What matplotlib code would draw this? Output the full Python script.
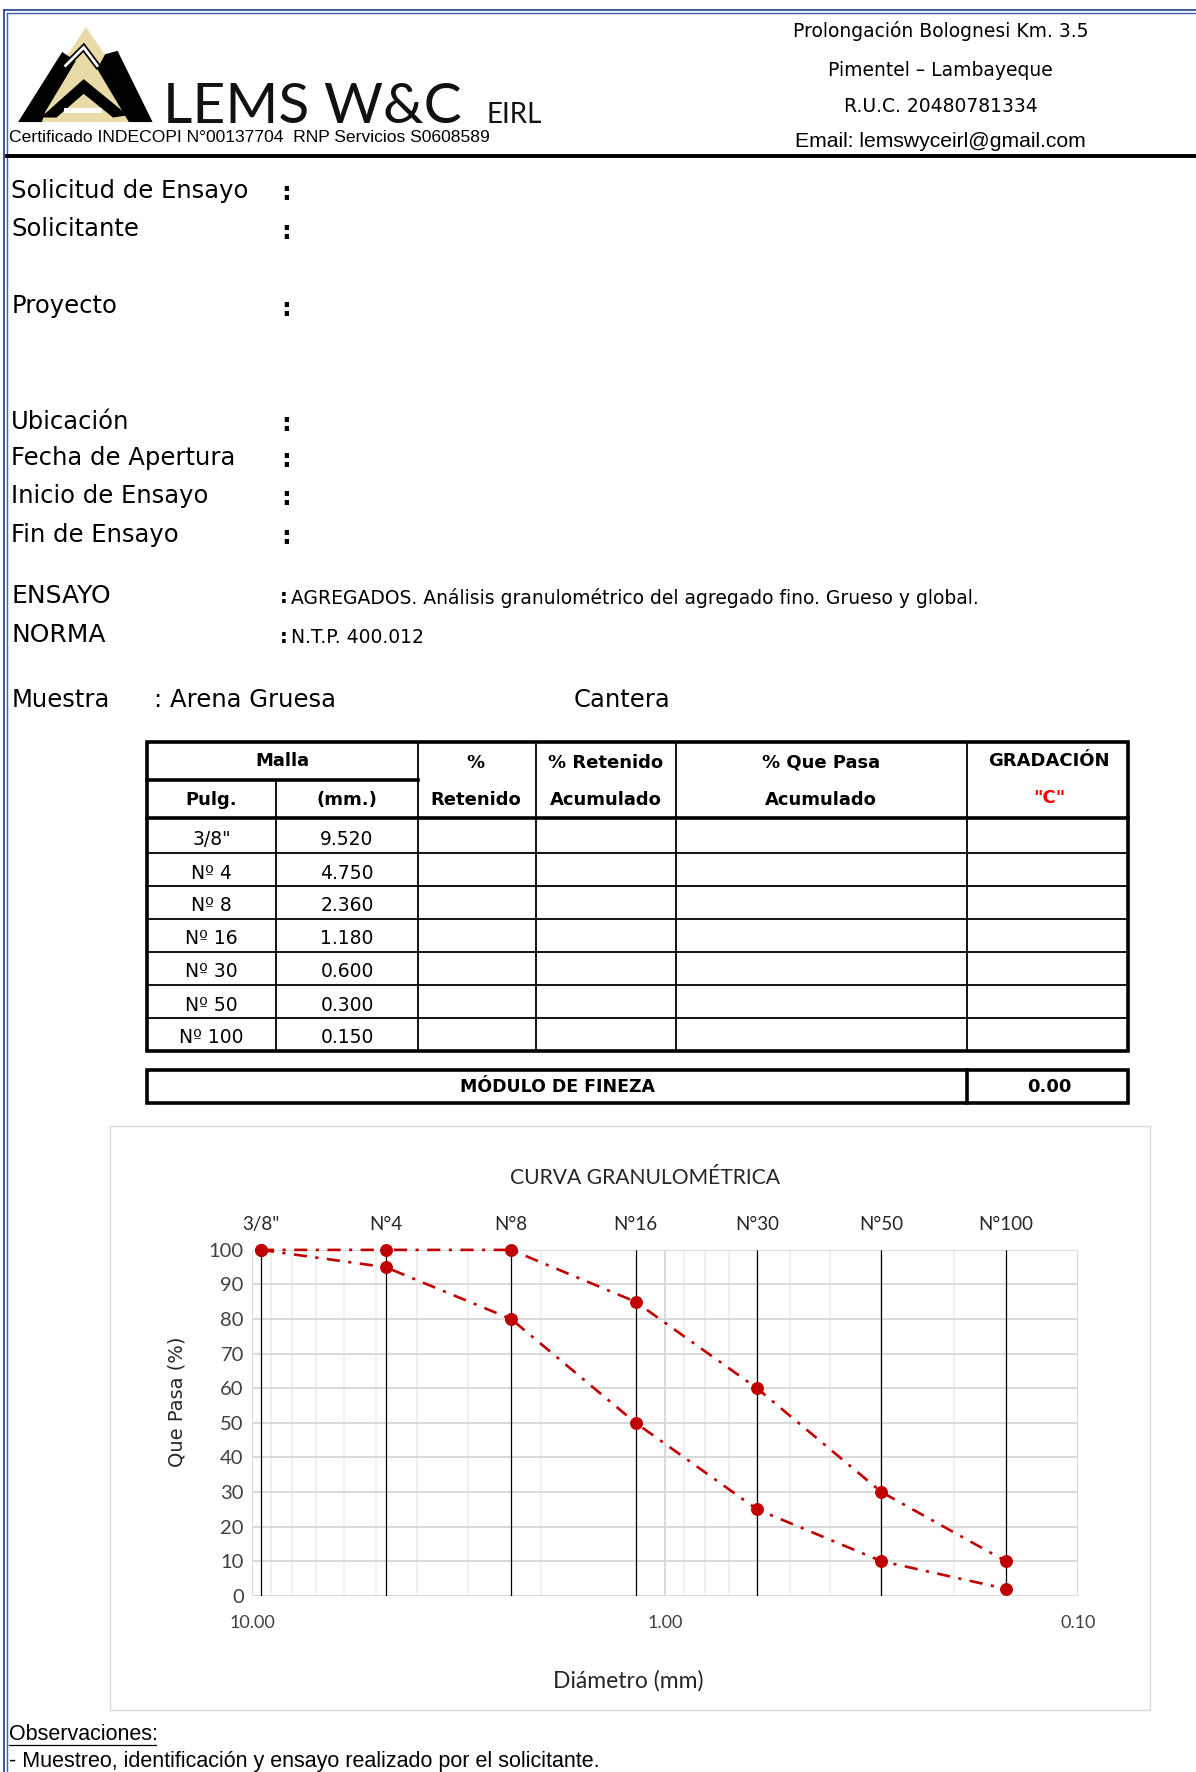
import matplotlib
matplotlib.use('Agg')
import matplotlib.pyplot as plt
from matplotlib.patches import Rectangle, Polygon
from matplotlib.ticker import LogLocator, NullFormatter, NullLocator
import numpy as np

# datos del ensayo granulometrico
tamiz_pulg = ['3/8"', 'Nº 4', 'Nº 8', 'Nº 16', 'Nº 30', 'Nº 50', 'Nº 100']
tamiz_mm_txt = ['9.520', '4.750', '2.360', '1.180', '0.600', '0.300', '0.150']
tamiz_mm = [9.52, 4.75, 2.36, 1.18, 0.60, 0.30, 0.15]
tamiz_top = ['3/8"', 'N°4', 'N°8', 'N°16', 'N°30', 'N°50', 'N°100']
limite_sup = [100, 100, 100, 85, 60, 30, 10]
limite_inf = [100, 95, 80, 50, 25, 10, 2]
modulo_fineza = '0.00'
gradacion = '"C"'

campos = ['Solicitud de Ensayo', 'Solicitante', 'Proyecto', 'Ubicación',
          'Fecha de Apertura', 'Inicio de Ensayo', 'Fin de Ensayo']
campos_y = [169, 203, 271, 373, 405, 439, 473]
direccion = ['Prolongación Bolognesi Km. 3.5', 'Pimentel – Lambayeque',
             'R.U.C. 20480781334']

W, H = 1058, 1568   # coordenadas de trabajo (se escalan a 1196x1772)
TAH = ['DejaVu Sans']
ARIAL = ['Liberation Sans', 'DejaVu Sans']
CAL = ['Lato', 'DejaVu Sans']
ROJO = '#C00000'

fig = plt.figure(figsize=(11.96, 17.72), dpi=100)
bg = fig.add_axes([0, 0, 1, 1])
bg.set_xlim(0, W)
bg.set_ylim(H, 0)
bg.axis('off')


def txt(x, y, s, size, fam=TAH, ha='left', **kw):
    bg.text(x, y, s, fontsize=size, family=fam, ha=ha, va='center', **kw)


# marco azul
bg.plot([3.5, W], [9, 9], color='#1F3C88', lw=1.2)
bg.plot([6, W], [11.5, 11.5], color='#3A5FCD', lw=1.0)
bg.plot([3.5, 3.5], [9, H], color='#1F3C88', lw=1.2)
bg.plot([6, 6], [11.5, H], color='#3A5FCD', lw=1.0)

# logo
bg.add_patch(Polygon([(20, 108), (76, 24), (134, 108)], closed=True, fc='#E9DBA8', ec='none'))
bg.add_patch(Polygon([(16, 108), (55, 46), (67, 54), (40, 99), (37, 108)], closed=True, fc='black'))
bg.add_patch(Polygon([(93, 48), (104, 45), (135, 108), (114, 108), (86, 61)], closed=True, fc='black'))
bg.add_patch(Polygon([(36, 104), (74, 70), (113, 102), (100, 104), (74, 83), (50, 104)],
                     closed=True, fc='black'))
bg.add_patch(Rectangle((57, 96), 33, 4, fc='white', ec='none'))
bg.plot([58, 74, 86], [58, 42, 58], color='black', lw=4.5, solid_joinstyle='miter')
bg.plot([58, 74, 86], [58, 42, 58], color='white', lw=2.0, solid_joinstyle='miter')

bg.text(144, 109, 'LEMS W&C', fontsize=41, family=CAL, va='baseline', color='#111111')
bg.text(430, 109, 'EIRL', fontsize=20, family=CAL, va='baseline', color='#111111')
txt(8, 122, 'Certificado INDECOPI N°00137704  RNP Servicios S0608589', 12.6, fam=ARIAL)

for s, y in zip(direccion, [27, 62, 94]):
    txt(832, y, s, 13.5, ha='center')
txt(832, 125, 'Email: lemswyceirl@gmail.com', 15.2, fam=ARIAL, ha='center')
bg.plot([6, W], [138, 138], color='black', lw=2.8)

# datos generales
for s, y in zip(campos, campos_y):
    txt(10, y, s, 17.5)
    txt(249, y + 2, ':', 17.5, weight='bold')
txt(10, 527, 'ENSAYO', 18)
txt(10, 562, 'NORMA', 18)
txt(248, 529, ':', 14, weight='bold')
txt(257, 529, 'AGREGADOS. Análisis granulométrico del agregado fino. Grueso y global.', 13.5)
txt(248, 564, ':', 14, weight='bold')
txt(257, 564, 'N.T.P. 400.012', 13.5)
txt(10, 619, 'Muestra', 17.5)
txt(136, 619, ': Arena Gruesa', 17.5)
txt(507, 619, 'Cantera', 17.5)

# tabla
cols = [130, 244, 370, 474, 598, 855, 998]
top, hmid, hbot = 657, 690, 724
filas = [724, 755, 784, 813, 842, 872, 901, 930]
thin = 1.3
thick = 2.6
for y in filas[1:-1]:
    bg.plot([cols[0], cols[-1]], [y, y], color='black', lw=thin)
bg.plot([cols[0], cols[2]], [hmid, hmid], color='black', lw=thick)
bg.plot([cols[1], cols[1]], [hmid, filas[-1]], color='black', lw=thin)
for x in cols[2:-1]:
    bg.plot([x, x], [top, filas[-1]], color='black', lw=thin)
bg.plot([cols[0], cols[-1]], [hbot, hbot], color='black', lw=thick)
bg.add_patch(Rectangle((cols[0], top), cols[-1] - cols[0], filas[-1] - top,
                       fill=False, ec='black', lw=thick))

hb = dict(weight='bold')
txt(250, 673, 'Malla', 13, ha='center', **hb)
txt(187, 708, 'Pulg.', 13, ha='center', **hb)
txt(307, 708, '(mm.)', 13, ha='center', **hb)
txt(421, 675, '%', 13, ha='center', **hb)
txt(421, 708, 'Retenido', 13, ha='center', **hb)
txt(536, 675, '% Retenido', 13, ha='center', **hb)
txt(536, 708, 'Acumulado', 13, ha='center', **hb)
txt(726, 675, '% Que Pasa', 13, ha='center', **hb)
txt(726, 708, 'Acumulado', 13, ha='center', **hb)
txt(928, 673, 'GRADACIÓN', 13, ha='center', **hb)
txt(928, 706, gradacion, 13, ha='center', color='red', **hb)

for i, (p, m) in enumerate(zip(tamiz_pulg, tamiz_mm_txt)):
    yc = (filas[i] + filas[i + 1]) / 2 + 3
    txt(187, yc, p, 13.5, ha='center')
    txt(307, yc, m, 13.5, ha='center')

bg.add_patch(Rectangle((130, 947), 868, 29, fill=False, ec='black', lw=thick))
bg.plot([855, 855], [947, 976], color='black', lw=thick)
txt(493, 962, 'MÓDULO DE FINEZA', 12.5, ha='center', **hb)
txt(928, 962, modulo_fineza, 13, ha='center', **hb)

# marco del grafico
bg.add_patch(Rectangle((97, 996), 920, 517, fill=False, ec='#D9D9D9', lw=1.0))
txt(571, 1042, 'CURVA GRANULOMÉTRICA', 15.2, fam=CAL, ha='center', color='#262626')
txt(556, 1487, 'Diámetro (mm)', 16.5, fam=CAL, ha='center', color='#262626')
txt(157, 1240, 'Que Pasa (%)', 14, fam=TAH, ha='center', rotation=90, color='#262626')

# grafico
x0, x1, y0, y1 = 223, 954, 1106, 1412
ax = fig.add_axes([x0 / W, 1 - y1 / H, (x1 - x0) / W, (y1 - y0) / H])
ax.set_xscale('log')
ax.set_xlim(10, 0.1)
ax.set_ylim(0, 100)
ax.set_yticks(range(0, 101, 10))
ax.set_xticks([10, 1, 0.1])
ax.set_xticklabels(['10.00', '1.00', '0.10'])
ax.xaxis.set_minor_locator(LogLocator(base=10, subs=np.arange(2, 10)))
ax.xaxis.set_minor_formatter(NullFormatter())
ax.grid(which='major', color='#D9D9D9', lw=1.4)
ax.grid(which='minor', axis='x', color='#ECECEC', lw=1.2)
ax.set_axisbelow(True)
ax.tick_params(which='both', length=0)
ax.tick_params(axis='x', pad=14, labelsize=13, labelcolor='#404040')
ax.tick_params(axis='y', pad=6, labelsize=14.5, labelcolor='#404040')
for lab in ax.get_xticklabels() + ax.get_yticklabels():
    lab.set_family(CAL)
for sp in ax.spines.values():
    sp.set_visible(False)
ax.patch.set_alpha(0)

ax.vlines(tamiz_mm, 0, 100, colors='black', lw=0.9, zorder=2)
estilo = dict(color=ROJO, ls=(0, (5, 3.2, 1.2, 3.2)), lw=1.9, marker='o', ms=8.3,
              clip_on=False, zorder=4)
ax.plot(tamiz_mm, limite_sup, **estilo)
ax.plot(tamiz_mm, limite_inf, **estilo)

axt = ax.twiny()
axt.set_xscale('log')
axt.set_xlim(10, 0.1)
axt.set_xticks(tamiz_mm)
axt.set_xticklabels(tamiz_top)
axt.xaxis.set_minor_locator(NullLocator())
axt.tick_params(length=0, pad=12, labelsize=13.5, labelcolor='#262626')
for lab in axt.get_xticklabels():
    lab.set_family(CAL)
for sp in axt.spines.values():
    sp.set_visible(False)

# observaciones
bg.text(8, 1535, 'Observaciones:', fontsize=15.5, family=ARIAL, va='center')
bg.plot([8, 138], [1544, 1544], color='black', lw=0.9)
txt(8, 1559, '- Muestreo, identificación y ensayo realizado por el solicitante.', 15.5, fam=ARIAL)

fig.savefig('out.png', dpi=100)
